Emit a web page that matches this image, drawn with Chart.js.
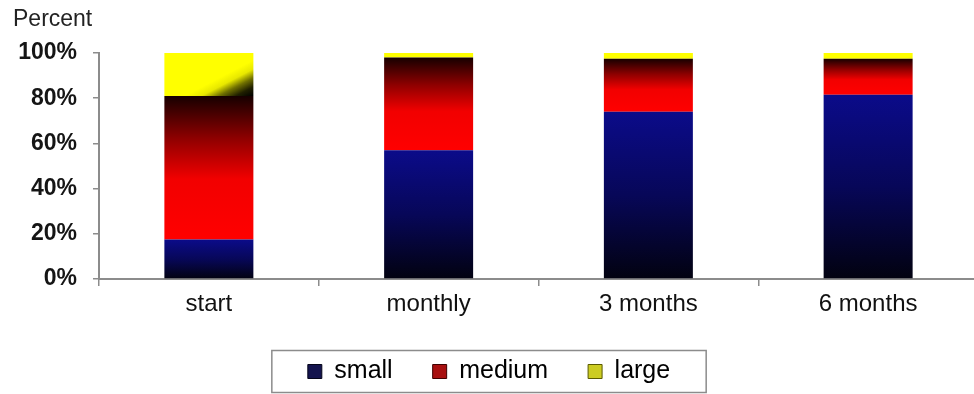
<!DOCTYPE html>
<html>
<head>
<meta charset="utf-8">
<script src="https://cdn.jsdelivr.net/npm/chart.js@4.4.1/dist/chart.umd.min.js"></script>
<style>
  html, body { margin: 0; padding: 0; background: #ffffff; overflow: hidden; }
  #wrap { width: 978px; height: 394px; }
</style>
</head>
<body>
<div id="wrap"><canvas id="c" width="978" height="394"></canvas></div>
<script>
// ---- data ----
const categories = ['start', 'monthly', '3 months', '6 months'];
const smallValues = [17.5, 57, 74, 81.5];
const mediumValues = [63.5, 41, 23.5, 16];
const largeValues = [19, 2, 2.5, 2.5];
const seriesNames = ['small', 'medium', 'large'];
const yTickValues = [0, 20, 40, 60, 80, 100];
const axisTitle = 'Percent';

const allSeries = [smallValues, mediumValues, largeValues];
const BAR_PCT = 0.405;
const FONT = "'Liberation Sans', Arial, sans-serif";

function segBounds(chart, dsIndex, i) {
  const xs = chart.scales.x, ys = chart.scales.y;
  let base = 0;
  for (let k = 0; k < dsIndex; k++) base += allSeries[k][i];
  const top = base + allSeries[dsIndex][i];
  const cw = (xs.right - xs.left) / categories.length;
  const bw = cw * BAR_PCT;
  const cx = xs.getPixelForValue(i);
  return { left: cx - bw / 2, right: cx + bw / 2, top: ys.getPixelForValue(top), bottom: ys.getPixelForValue(base) };
}

function smallFill(c) {
  if (!c.chart.chartArea || c.type !== 'data') return '#0a0a80';
  const b = segBounds(c.chart, 0, c.dataIndex);
  const g = c.chart.ctx.createLinearGradient(0, b.top, 0, b.bottom);
  g.addColorStop(0, '#0b0b8a');
  g.addColorStop(0.5, '#070758');
  g.addColorStop(1, '#020210');
  return g;
}
function mediumFill(c) {
  if (!c.chart.chartArea || c.type !== 'data') return '#c00000';
  const b = segBounds(c.chart, 1, c.dataIndex);
  const g = c.chart.ctx.createLinearGradient(0, b.bottom, 0, b.top);
  g.addColorStop(0, '#ff0000');
  g.addColorStop(0.42, '#f20000');
  g.addColorStop(0.7, '#900000');
  g.addColorStop(1, '#160000');
  return g;
}
function largeFill(c) {
  if (!c.chart.chartArea || c.type !== 'data') return '#ffff00';
  const b = segBounds(c.chart, 2, c.dataIndex);
  const w = b.right - b.left;
  const h = Math.max(b.bottom - b.top, 40);
  const g = c.chart.ctx.createLinearGradient(b.left, b.top, b.left + 0.41 * w, b.top + 1.63 * h);
  g.addColorStop(0, '#ffff00');
  g.addColorStop(0.6, '#ffff00');
  g.addColorStop(0.7, '#e8e800');
  g.addColorStop(0.8, '#707000');
  g.addColorStop(0.9, '#202000');
  g.addColorStop(1, '#000000');
  return g;
}

const legendColors = [
  { fill: '#14144e', stroke: '#05051a' },
  { fill: '#a81010', stroke: '#400000' },
  { fill: '#cccc22', stroke: '#5a5a00' }
];

const decor = {
  id: 'decor',
  afterDraw(chart) {
    const ctx = chart.ctx;
    const ca = chart.chartArea;
    ctx.save();
    ctx.fillStyle = '#222222';
    ctx.font = '23px ' + FONT;
    ctx.textAlign = 'left';
    ctx.textBaseline = 'alphabetic';
    ctx.fillText(axisTitle, ca.left - 86, ca.top - 27);
    const hb = chart.legend.legendHitBoxes;
    if (hb && hb.length) {
      const l = hb[0].left, r = hb[hb.length - 1].left + hb[hb.length - 1].width;
      const cy = hb[0].top + hb[0].height / 2;
      ctx.strokeStyle = '#8c8c8c';
      ctx.lineWidth = 1.5;
      ctx.strokeRect(l - 36, cy - 21, (r - l) + 72, 42);
    }
    ctx.restore();
  }
};

const gridStyle = { drawOnChartArea: false, drawTicks: true, tickLength: 6, color: '#8c8c8c', lineWidth: 1.5 };

new Chart(document.getElementById('c'), {
  type: 'bar',
  data: {
    labels: categories,
    datasets: [
      { label: seriesNames[0], data: smallValues, backgroundColor: smallFill, borderWidth: 0 },
      { label: seriesNames[1], data: mediumValues, backgroundColor: mediumFill, borderWidth: 0 },
      { label: seriesNames[2], data: largeValues, backgroundColor: largeFill, borderWidth: 0 }
    ]
  },
  options: {
    responsive: false,
    devicePixelRatio: 1,
    animation: false,
    events: [],
    layout: { padding: { top: 53, left: 0, right: 0, bottom: 0 } },
    datasets: { bar: { barPercentage: BAR_PCT, categoryPercentage: 1 } },
    scales: {
      x: {
        stacked: true,
        grid: Object.assign({}, gridStyle, { offset: true, tickLength: 7 }),
        border: { display: true, color: '#8c8c8c', width: 2 },
        ticks: { color: '#111111', font: { family: FONT, size: 24 }, padding: 4, maxRotation: 0 },
        afterFit(s) { s.height = 40; }
      },
      y: {
        stacked: true,
        min: 0,
        max: 100,
        afterBuildTicks(s) { s.ticks = yTickValues.map(v => ({ value: v })); },
        grid: gridStyle,
        border: { display: true, color: '#8c8c8c', width: 2 },
        ticks: { color: '#151515', font: { family: FONT, size: 23, weight: 'bold' }, padding: 16, callback: v => v + '%' },
        afterFit(s) { s.width = 99; }
      }
    },
    plugins: {
      title: { display: false },
      tooltip: { enabled: false },
      legend: {
        display: true,
        position: 'bottom',
        labels: {
          boxWidth: 14,
          boxHeight: 14,
          padding: 40,
          color: '#222222',
          font: { family: FONT, size: 25 },
          generateLabels: () => seriesNames.map((n, i) => ({
            text: n,
            fillStyle: legendColors[i].fill,
            strokeStyle: legendColors[i].stroke,
            lineWidth: 1,
            hidden: false,
            datasetIndex: i
          }))
        }
      }
    }
  },
  plugins: [decor]
});
</script>
</body>
</html>
